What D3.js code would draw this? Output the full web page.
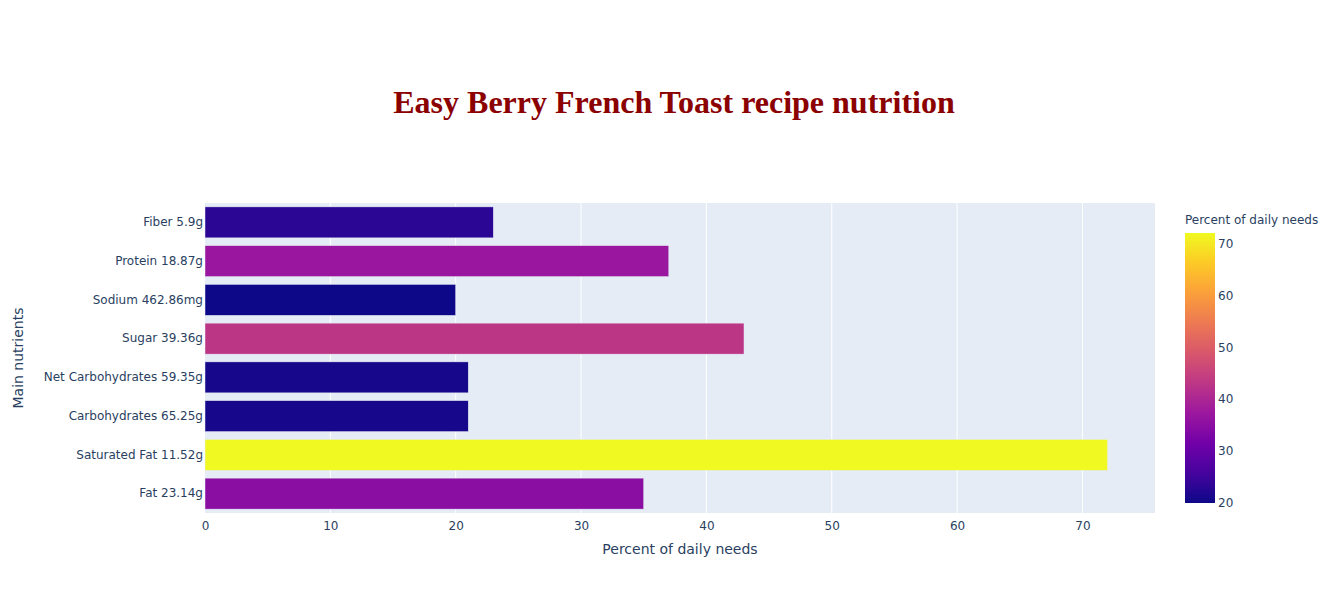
<!DOCTYPE html>
<html>
<head>
<meta charset="utf-8">
<script src="https://cdn.jsdelivr.net/npm/d3@7"></script>
<style>
  html, body { margin: 0; padding: 0; background: #fff; }
  svg { display: block; }
</style>
</head>
<body>
<svg id="chart" width="1328" height="591"></svg>
<script>
const categories = ["Fat 23.14g", "Saturated Fat 11.52g", "Carbohydrates 65.25g", "Net Carbohydrates 59.35g", "Sugar 39.36g", "Sodium 462.86mg", "Protein 18.87g", "Fiber 5.9g"];
const values = [35, 72, 21, 21, 43, 20, 37, 23];
const xTicks = [0, 10, 20, 30, 40, 50, 60, 70];
const colorTicks = [20, 30, 40, 50, 60, 70];
const plasma = ["#0d0887", "#46039f", "#7201a8", "#9c179e", "#bd3786", "#d8576b", "#ed7953", "#fb9f3a", "#fdca26", "#f0f921"];

const svg = d3.select("#chart");
const font = "'DejaVu Sans', verdana, arial, sans-serif";
const txt = "#2a3f5f";

const plot = { left: 205, right: 1155, top: 203, bottom: 513 };

const cmin = d3.min(values), cmax = d3.max(values);
const x = d3.scaleLinear().domain([0, cmax * 1.0526]).range([plot.left, plot.right]);
const y = d3.scaleBand().domain(categories.slice().reverse()).range([plot.top, plot.bottom]).paddingInner(0.2).paddingOuter(0.1);

const colorInterp = d3.piecewise(d3.interpolateRgb, plasma);
const color = v => colorInterp((v - cmin) / (cmax - cmin));

// background
svg.append("rect").attr("x", plot.left).attr("y", plot.top)
  .attr("width", plot.right - plot.left).attr("height", plot.bottom - plot.top)
  .attr("fill", "#E5ECF6");

// grid
svg.append("g").selectAll("line").data(xTicks.filter(d => d > 0)).join("line")
  .attr("x1", d => x(d)).attr("x2", d => x(d))
  .attr("y1", plot.top).attr("y2", plot.bottom)
  .attr("stroke", "#fff").attr("stroke-width", 1);

// bars
svg.append("g").selectAll("rect").data(categories.map((c, i) => ({ c, v: values[i] }))).join("rect")
  .attr("x", x(0)).attr("y", d => y(d.c))
  .attr("width", d => x(d.v) - x(0)).attr("height", y.bandwidth())
  .attr("fill", d => color(d.v))
  .attr("stroke", "#E5ECF6").attr("stroke-width", 0.5);

// x axis
const xAxis = d3.axisBottom(x).tickValues(xTicks).tickSize(0).tickPadding(0);
const gx = svg.append("g").attr("transform", `translate(0,${plot.bottom})`).call(xAxis);
gx.select(".domain").remove();
gx.selectAll("text").attr("font-family", font).attr("font-size", 12).attr("fill", txt).attr("dy", "1.45em");

// y axis
const yAxis = d3.axisLeft(y).tickSize(0).tickPadding(2);
const gy = svg.append("g").attr("transform", `translate(${plot.left},0)`).call(yAxis);
gy.select(".domain").remove();
gy.selectAll("text").attr("font-family", font).attr("font-size", 12).attr("fill", txt);

// axis titles
svg.append("text").attr("x", 680).attr("y", 554)
  .attr("text-anchor", "middle").attr("font-family", font).attr("font-size", 14).attr("fill", txt)
  .text("Percent of daily needs");
svg.append("text").attr("transform", `translate(23,${(plot.top + plot.bottom) / 2}) rotate(-90)`)
  .attr("text-anchor", "middle").attr("font-family", font).attr("font-size", 14).attr("fill", txt)
  .text("Main nutrients");

// title
svg.append("text").attr("x", 674).attr("y", 113)
  .attr("text-anchor", "middle").attr("font-family", "'Times New Roman', 'Liberation Serif', serif")
  .attr("font-weight", "bold").attr("font-size", 32).attr("fill", "#8B0000")
  .text("Easy Berry French Toast recipe nutrition");

// colorbar
const cb = { x: 1185, w: 30, top: 233, bottom: 503 };
const cy = d3.scaleLinear().domain([cmin, cmax]).range([cb.bottom, cb.top]);
const defs = svg.append("defs");
const grad = defs.append("linearGradient").attr("id", "cbgrad")
  .attr("x1", 0).attr("y1", 1).attr("x2", 0).attr("y2", 0);
plasma.forEach((c, i) => grad.append("stop").attr("offset", i / (plasma.length - 1)).attr("stop-color", c));
svg.append("rect").attr("x", cb.x).attr("y", cb.top).attr("width", cb.w).attr("height", cb.bottom - cb.top)
  .attr("fill", "url(#cbgrad)");
const cAxis = d3.axisRight(cy).tickValues(colorTicks).tickSize(0).tickPadding(3);
const gc = svg.append("g").attr("transform", `translate(${cb.x + cb.w},0)`).call(cAxis);
gc.select(".domain").remove();
gc.selectAll("text").attr("font-family", font).attr("font-size", 12).attr("fill", txt);
svg.append("text").attr("x", cb.x).attr("y", 224)
  .attr("font-family", font).attr("font-size", 12).attr("fill", txt)
  .text("Percent of daily needs");
</script>
</body>
</html>
